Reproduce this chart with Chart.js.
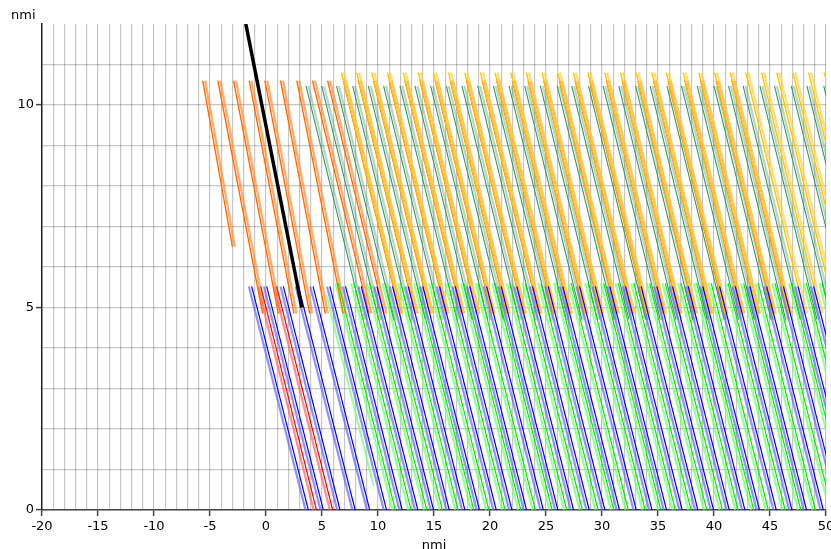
<!DOCTYPE html>
<html>
<head>
<meta charset="utf-8">
<title>Tracks</title>
<script src="https://cdn.jsdelivr.net/npm/chart.js@4.4.1/dist/chart.umd.min.js"></script>
<style>
  html, body { margin: 0; padding: 0; background: #fff; }
  #chart { display: block; }
</style>
</head>
<body>
<canvas id="chart" width="831" height="549"></canvas>
<script>
// ======================================================
// 1. Data (nmi)
// ======================================================
const xTicksMajor = [-20, -15, -10, -5, 0, 5, 10, 15, 20, 25, 30, 35, 40, 45, 50];
const yTicksMajor = [0, 5, 10];
const xTitle = 'nmi';
const yTitle = 'nmi';

// upper band - orange tracks (top y 10.6)
const orangeTopX = [-5.65, -4.3, -2.9, -1.5, -0.1, 1.3, 2.75, 4.15, 5.5, 6.9, 8.25, 9.6, 11.0, 12.4, 13.75, 15.1, 16.45, 17.9,
  19.3, 20.6, 22.0, 23.4, 24.8, 26.2, 27.6, 28.9, 30.4, 31.8, 33.2, 34.6, 35.9, 37.4, 38.8, 40.2, 41.6];
const orangeBottomX = [-3.0, -0.3, 1.1, 2.5, 3.9, 5.3, 6.9, 9.2, 10.55, 11.95, 13.3, 14.65, 16.05, 17.45, 18.8, 20.15, 21.5, 22.95,
  24.35, 25.65, 27.05, 28.45, 29.85, 31.25, 32.65, 33.95, 35.45, 36.85, 38.25, 39.65, 40.95, 42.45, 43.85, 45.25, 46.65];
const orangeBottomY = [6.5, 4.85, 4.85, 4.85, 4.85, 4.85, 4.85, 4.85, 4.85, 4.85, 4.85, 4.85, 4.85, 4.85, 4.85, 4.85, 4.85, 4.85,
  4.85, 4.85, 4.85, 4.85, 4.85, 4.85, 4.85, 4.85, 4.85, 4.85, 4.85, 4.85, 4.85, 4.85, 4.85, 4.85, 4.85];

// upper band - yellow tracks (top y 10.8)
const yellowTopX = [6.75, 8.1, 9.45, 10.85, 12.25, 13.6, 14.95, 16.3, 17.75, 19.15, 20.45, 21.85, 23.25, 24.65, 26.05, 27.45,
  28.75, 30.25, 31.65, 33.05, 34.45, 35.75, 37.25, 38.65, 40.05, 41.45, 42.85, 44.25, 45.6, 47.05, 48.45, 49.85];
const yellowBottomX = [12.0, 13.35, 14.7, 16.1, 17.5, 18.85, 20.2, 21.55, 23.0, 24.4, 25.7, 27.1, 28.5, 29.9, 31.3, 32.7,
  34.0, 35.5, 36.9, 38.3, 39.7, 41.0, 42.5, 43.9, 45.3, 46.7, 48.1, 49.5, 50.85, 52.3, 53.7, 55.1];

// upper band - sea green tracks (top y 10.47)
const tealTopX = [3.57, 4.97, 6.3, 7.74, 9.13, 10.5, 11.96, 13.3, 14.7, 16.1, 17.5, 18.9, 20.3, 21.7, 23.1, 24.5, 26.0,
  27.3, 28.8, 30.1, 31.5, 33.0, 34.3, 35.8, 37.1, 38.5, 40.0, 41.3, 42.6, 44.1, 45.4, 46.9, 48.3, 49.8];
const tealBottomX = [8.67, 10.07, 11.4, 12.84, 14.23, 15.6, 17.06, 18.4, 19.8, 21.2, 22.6, 24.0, 25.4, 26.8, 28.2, 29.6, 31.1,
  32.4, 33.9, 35.2, 36.6, 38.1, 39.4, 40.9, 42.2, 43.6, 45.1, 46.4, 47.7, 49.2, 50.5, 52.0, 53.4, 54.9];

// lower band - blue tracks (top y 5.52, down to 0)
const blueTopX = [-1.28, 0.06, 1.55, 2.9, 4.2, 5.7, 7.1, 8.5, 9.9, 11.3, 12.7, 14.0, 15.5, 16.9, 18.2, 19.7, 21.0, 22.4,
  23.8, 25.2, 26.5, 28.0, 29.4, 30.7, 32.1, 33.5, 34.9, 36.3, 37.7, 39.0, 40.5, 41.9, 43.2, 44.7, 46.2, 47.5, 48.9];
const blueBottomX = [3.78, 5.12, 6.61, 7.96, 9.26, 10.76, 12.16, 13.56, 14.96, 16.36, 17.76, 19.06, 20.56, 21.96, 23.26, 24.76,
  26.06, 27.46, 28.86, 30.26, 31.56, 33.06, 34.46, 35.76, 37.16, 38.56, 39.96, 41.36, 42.76, 44.06, 45.56, 46.96, 48.26,
  49.76, 51.26, 52.56, 53.96];

// lower band - green tracks (top y 5.6, down to 0)
const greenTopX = [6.45, 7.85, 9.25, 10.65, 12.05, 13.45, 14.8, 16.25, 17.65, 18.95, 20.45, 21.75, 23.15, 24.55, 25.95, 27.25,
  28.75, 30.15, 31.45, 32.85, 34.25, 35.65, 37.05, 38.45, 39.75, 41.25, 42.65, 43.95, 45.45, 46.95, 48.25, 49.65];
const greenBottomX = [11.55, 12.95, 14.35, 15.75, 17.15, 18.55, 19.9, 21.35, 22.75, 24.05, 25.55, 26.85, 28.25, 29.65, 31.05,
  32.35, 33.85, 35.25, 36.55, 37.95, 39.35, 40.75, 42.15, 43.55, 44.85, 46.35, 47.75, 49.05, 50.55, 52.05, 53.35, 54.75];

// lower band - red tracks
const redTopX = [-0.47, 0.95];
const redBottomX = [4.5, 5.95];

// short pale green piece that stops above the axis
const greenShortX = [5.4, 9.6];
const greenShortY = [5.3, 0.6];

// black track
const blackX = [-1.8, 3.2];
const blackY = [12.0, 5.0];

const ORANGE_TOP_Y = 10.6;
const YELLOW_TOP_Y = 10.8;
const TEAL_TOP_Y = 10.47;
const TEAL_BOTTOM_Y = 4.7;
const YELLOW_BOTTOM_Y = 4.85;
const BLUE_TOP_Y = 5.52;
const GREEN_TOP_Y = 5.6;
const LOWER_BOTTOM_Y = 0;

// second (pale) trace of every track sits a little beside the first one
const UPPER_PAIR_SHIFT = 0.22;
const LOWER_PAIR_SHIFT = -0.25;

// ======================================================
// 2. Helpers
// ======================================================
function pick(v, i) {
    return Array.isArray(v) ? v[i] : v;
}

// every track becomes two points followed by a gap
function buildSegments(topX, topY, bottomX, bottomY, shift) {
    const pts = [];
    topX.forEach(function(x0, i) {
        const x1 = bottomX[i] + shift;
        pts.push({ x: x0 + shift, y: pick(topY, i) });
        pts.push({ x: x1, y: pick(bottomY, i) });
        pts.push({ x: x1, y: null });
    });
    return pts;
}

const trackGroups = [
    { name: 'red', topX: redTopX, topY: BLUE_TOP_Y, bottomX: redBottomX, bottomY: LOWER_BOTTOM_Y,
      dark: '#ff0000', light: 'rgba(255,95,95,0.7)', darkWidth: 1.2, lightWidth: 2.2, shift: LOWER_PAIR_SHIFT, order: 1 },
    { name: 'blue', topX: blueTopX, topY: BLUE_TOP_Y, bottomX: blueBottomX, bottomY: LOWER_BOTTOM_Y,
      dark: '#0000ff', light: 'rgba(100,100,255,0.7)', darkWidth: 1.2, lightWidth: 2.2, shift: LOWER_PAIR_SHIFT, order: 2 },
    { name: 'green', topX: greenTopX, topY: GREEN_TOP_Y, bottomX: greenBottomX, bottomY: LOWER_BOTTOM_Y,
      dark: '#00ee00', light: 'rgba(110,255,110,0.7)', darkWidth: 1.2, lightWidth: 2.2, shift: LOWER_PAIR_SHIFT, order: 3 },
    { name: 'yellow', topX: yellowTopX, topY: YELLOW_TOP_Y, bottomX: yellowBottomX, bottomY: YELLOW_BOTTOM_Y,
      dark: '#ffc400', light: 'rgba(255,210,70,0.7)', darkWidth: 1.4, lightWidth: 2.4, shift: UPPER_PAIR_SHIFT, order: 4 },
    { name: 'orange', topX: orangeTopX, topY: ORANGE_TOP_Y, bottomX: orangeBottomX, bottomY: orangeBottomY,
      dark: '#ff6c00', light: 'rgba(255,140,60,0.7)', darkWidth: 1.4, lightWidth: 2.4, shift: UPPER_PAIR_SHIFT, order: 5 },
    { name: 'teal', topX: tealTopX, topY: TEAL_TOP_Y, bottomX: tealBottomX, bottomY: TEAL_BOTTOM_Y,
      dark: '#3a9464', light: 'rgba(46,139,87,0.35)', darkWidth: 1.1, lightWidth: 2.2, shift: UPPER_PAIR_SHIFT, order: 6 }
];

// ======================================================
// 3. Datasets
// ======================================================
const datasets = [];

trackGroups.forEach(function(g) {
    datasets.push({
        label: g.name,
        data: buildSegments(g.topX, g.topY, g.bottomX, g.bottomY, 0),
        borderColor: g.dark,
        borderWidth: g.darkWidth,
        order: g.order
    });
    datasets.push({
        label: g.name + ' (pale)',
        data: buildSegments(g.topX, g.topY, g.bottomX, g.bottomY, g.shift),
        borderColor: g.light,
        borderWidth: g.lightWidth,
        order: g.order + 10
    });
});

datasets.push({
    label: 'green short',
    data: greenShortX.map(function(x, i) { return { x: x, y: greenShortY[i] }; }),
    borderColor: 'rgba(110,255,110,0.7)',
    borderWidth: 2,
    order: 13
});

datasets.push({
    label: 'black',
    data: blackX.map(function(x, i) { return { x: x, y: blackY[i] }; }),
    borderColor: '#000000',
    borderWidth: 3.5,
    order: 0
});

// ======================================================
// 4. Y caption plugin (horizontal "nmi" above the axis)
// ======================================================
const yCaption = {
    id: 'yCaption',
    afterDraw(chart) {
        const ctx = chart.ctx;
        ctx.save();
        ctx.font = '13px "DejaVu Sans", Verdana, sans-serif';
        ctx.fillStyle = '#000';
        ctx.textAlign = 'left';
        ctx.textBaseline = 'alphabetic';
        ctx.fillText(yTitle, 11, 19);
        ctx.restore();
    }
};

// ======================================================
// 5. Chart
// ======================================================
const GRID_COLOR = 'rgba(0,0,0,0.22)';
const TICK_COLOR = '#444';
const tickFont = { family: '"DejaVu Sans", Verdana, sans-serif', size: 13 };

new Chart(document.getElementById('chart').getContext('2d'), {
    type: 'line',
    data: { datasets: datasets },
    options: {
        responsive: false,
        animation: false,
        devicePixelRatio: 1,
        spanGaps: false,
        layout: { padding: { top: 24, right: 5, left: 0, bottom: 0 } },
        elements: {
            point: { radius: 0, hoverRadius: 0 },
            line: { tension: 0, fill: false }
        },
        plugins: {
            legend: { display: false },
            tooltip: { enabled: false }
        },
        scales: {
            x: {
                type: 'linear',
                min: -20,
                max: 50,
                ticks: {
                    stepSize: 1,
                    autoSkip: false,
                    maxRotation: 0,
                    padding: 3,
                    color: '#000',
                    font: tickFont,
                    callback: function(v) { return xTicksMajor.includes(v) ? String(v) : ''; }
                },
                grid: {
                    color: GRID_COLOR,
                    lineWidth: 1.2,
                    tickLength: 6,
                    tickWidth: 1.5,
                    tickColor: function(c) { return c.tick && xTicksMajor.includes(c.tick.value) ? TICK_COLOR : 'transparent'; }
                },
                border: { display: true, color: '#444', width: 1.5 },
                title: {
                    display: true,
                    text: xTitle,
                    color: '#000',
                    font: { family: '"DejaVu Sans", Verdana, sans-serif', size: 13, lineHeight: 1 },
                    padding: { top: 0, bottom: -3 }
                },
                afterFit: function(scale) {
                    scale.height = 39;
                    scale.paddingLeft = 0;
                    scale.paddingRight = 0;
                }
            },
            y: {
                type: 'linear',
                min: 0,
                max: 12,
                ticks: {
                    stepSize: 1,
                    autoSkip: false,
                    padding: 2,
                    color: '#000',
                    font: tickFont,
                    callback: function(v) { return yTicksMajor.includes(v) ? String(v) : ''; }
                },
                grid: {
                    color: function(c) { return c.tick && c.tick.value === 12 ? 'transparent' : GRID_COLOR; },
                    lineWidth: 1.2,
                    tickLength: 6,
                    tickWidth: 1.5,
                    tickColor: function(c) { return c.tick && yTicksMajor.includes(c.tick.value) ? TICK_COLOR : 'transparent'; }
                },
                border: { display: true, color: '#222', width: 1.5 },
                afterFit: function(scale) {
                    scale.width = 42;
                    scale.paddingTop = 0;
                    scale.paddingBottom = 0;
                }
            }
        }
    },
    plugins: [yCaption]
});
</script>
</body>
</html>
